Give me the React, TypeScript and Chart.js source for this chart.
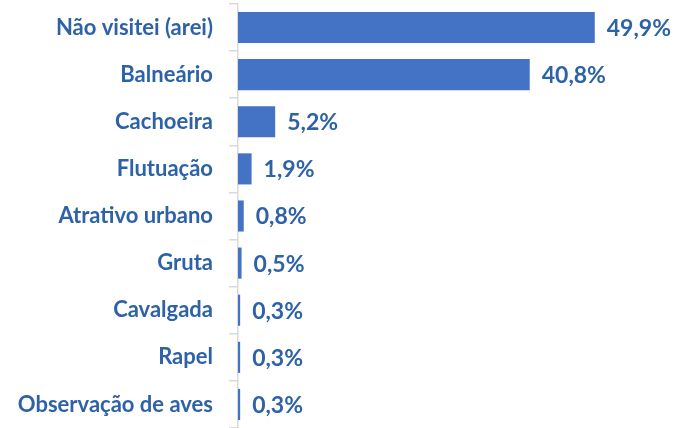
import React, { useEffect, useRef } from "react";
import { Chart, registerables } from "chart.js";

Chart.register(...registerables);

const categories = [
  "Não visitei (arei)",
  "Balneário",
  "Cachoeira",
  "Flutuação",
  "Atrativo urbano",
  "Gruta",
  "Cavalgada",
  "Rapel",
  "Observação de aves",
];
const values = [49.9, 40.8, 5.2, 1.9, 0.8, 0.5, 0.3, 0.3, 0.3];
const valueLabels = ["49,9%", "40,8%", "5,2%", "1,9%", "0,8%", "0,5%", "0,3%", "0,3%", "0,3%"];

const TEXT = "#2e62a8";
const BAR = "#4472c4";
const FONT = "Lato, 'Liberation Sans', sans-serif";

const dataLabelPlugin = {
  id: "dataLabels",
  afterDatasetsDraw(chart: any) {
    const ctx = chart.ctx;
    const meta = chart.getDatasetMeta(0);
    ctx.save();
    ctx.fillStyle = TEXT;
    ctx.font = `bold 23px ${FONT}`;
    ctx.textAlign = "left";
    ctx.textBaseline = "middle";
    meta.data.forEach((bar: any, i: number) => {
      ctx.fillText(valueLabels[i], bar.x + 12, bar.y + 1);
    });
    ctx.restore();
  },
};

export default function App() {
  const ref = useRef<HTMLCanvasElement>(null);
  useEffect(() => {
    document.body.style.margin = "0";
    const chart = new Chart(ref.current!, {
      type: "bar",
      data: {
        labels: categories,
        datasets: [
          {
            data: values,
            backgroundColor: BAR,
            barPercentage: 0.66,
            categoryPercentage: 1,
          },
        ],
      },
      options: {
        indexAxis: "y",
        animation: false,
        responsive: false,
        maintainAspectRatio: false,
        layout: { padding: { top: 4, right: 11, bottom: 0, left: 0 } },
        plugins: { legend: { display: false }, tooltip: { enabled: false } },
        scales: {
          x: { display: false, min: 0, max: 60 },
          y: {
            afterFit(scale: any) {
              scale.width = 238;
              scale.paddingTop = 0;
              scale.paddingBottom = 0;
            },
            grid: {
              drawOnChartArea: false,
              tickLength: 9,
              color: "#d9d9d9",
              lineWidth: 1.5,
            },
            border: { color: "#d9d9d9", width: 1.5 },
            ticks: {
              color: TEXT,
              padding: 16,
              autoSkip: false,
              font: { family: FONT, size: 22, weight: "bold" },
            },
          },
        },
      },
      plugins: [dataLabelPlugin],
    });
    return () => chart.destroy();
  }, []);
  return (
    <div style={{ position: "absolute", left: 0, top: 0, width: 678, height: 428 }}>
      <canvas ref={ref} width={678} height={428} />
    </div>
  );
}
